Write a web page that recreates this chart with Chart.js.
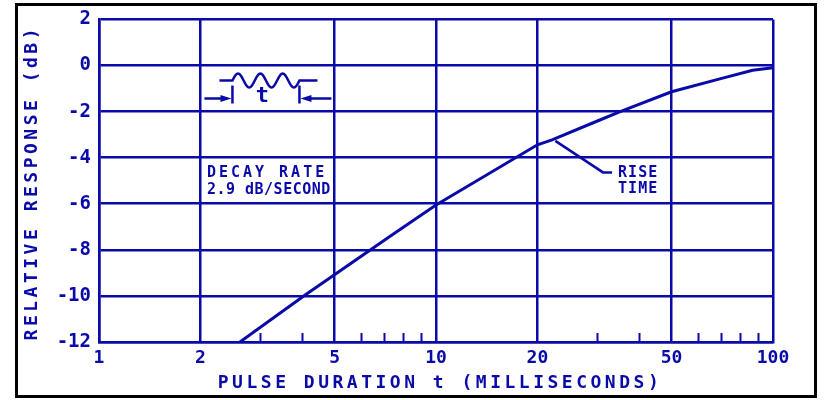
<!DOCTYPE html>
<html lang="en">
<head>
   <meta charset="UTF-8">
   <title>Relative Response vs Pulse Duration</title>
   <script src="https://cdn.jsdelivr.net/npm/chart.js"></script>
   <style>
      body { margin: 0; background: #fff; }
      #wrap { width: 824px; height: 400px; }
   </style>
</head>
<body>
   <div id="wrap"><canvas id="responseChart" width="824" height="400"></canvas></div>

   <script>
      // data
      const pulseMs = [2.62, 4.1, 7.4, 10, 20, 22.1, 30, 35.2, 50, 70, 87, 100];
      const responseDb = [-12, -9.95, -7.36, -6.05, -3.44, -3.23, -2.42, -2, -1.14, -0.57, -0.21, -0.1];

      const xMajorTicks = [1, 2, 5, 10, 20, 50, 100];
      const xMinorTicks = [3, 4, 6, 7, 8, 9, 30, 40, 60, 70, 80, 90];
      const yTicks = [-12, -10, -8, -6, -4, -2, 0, 2];

      const blue = '#0a0aa8';
      const font = '"DejaVu Sans Mono", monospace';

      // labels placed in data space
      const decayText = ['DECAY RATE', '2.9 dB/SECOND'];
      const riseText = ['RISE', 'TIME'];

      const drawExtras = {
         id: 'drawExtras',
         afterDraw(chart) {
            const ctx = chart.ctx;
            const xs = chart.scales.x;
            const ys = chart.scales.y;
            const a = chart.chartArea;
            ctx.save();
            ctx.strokeStyle = blue;
            ctx.fillStyle = blue;

            // minor ticks up from the bottom axis
            ctx.lineWidth = 2;
            xMinorTicks.forEach(v => {
               const px = Math.round(xs.getPixelForValue(v)) + 0.5;
               ctx.beginPath();
               ctx.moveTo(px, a.bottom);
               ctx.lineTo(px, a.bottom - 9);
               ctx.stroke();
            });

            // axis titles
            ctx.letterSpacing = '3.5px';
            ctx.font = 'bold 18px ' + font;
            ctx.textAlign = 'center';
            ctx.textBaseline = 'middle';
            ctx.fillText('PULSE DURATION t (MILLISECONDS)', (a.left + a.right) / 2 + 4, 383);
            ctx.save();
            ctx.translate(32, (a.top + a.bottom) / 2 + 2);
            ctx.rotate(-Math.PI / 2);
            ctx.fillText('RELATIVE RESPONSE (dB)', 0, 0);
            ctx.restore();

            // annotations
            ctx.font = 'bold 15px ' + font;
            ctx.textAlign = 'left';
            const dx = xs.getPixelForValue(2.09);
            ctx.letterSpacing = '3px';
            ctx.fillText(decayText[0], dx, ys.getPixelForValue(-4.68));
            ctx.letterSpacing = '0.5px';
            ctx.fillText(decayText[1], dx, ys.getPixelForValue(-5.41));
            ctx.letterSpacing = '1px';
            const rx = xs.getPixelForValue(34.7);
            ctx.fillText(riseText[0], rx, ys.getPixelForValue(-4.68));
            ctx.fillText(riseText[1], rx, ys.getPixelForValue(-5.37));

            // rise time leader
            ctx.lineWidth = 2.5;
            ctx.beginPath();
            ctx.moveTo(xs.getPixelForValue(22.6), ys.getPixelForValue(-3.27));
            ctx.lineTo(xs.getPixelForValue(31.3), ys.getPixelForValue(-4.64));
            ctx.lineTo(xs.getPixelForValue(33.3), ys.getPixelForValue(-4.64));
            ctx.stroke();

            // pulse sketch, anchored at (2, -1)
            const ox = xs.getPixelForValue(2);
            const oy = ys.getPixelForValue(-1);
            ctx.beginPath();
            ctx.moveTo(ox + 19, oy - 8);
            ctx.lineTo(ox + 32, oy - 8);
            for (let i = 0; i <= 60; i++) {
               const t = i / 60;
               ctx.lineTo(ox + 32 + 67 * t, oy - 8 - 7 * Math.sin(2 * Math.PI * 3 * t));
            }
            ctx.lineTo(ox + 117, oy - 8);
            ctx.moveTo(ox + 32, oy - 3);
            ctx.lineTo(ox + 32, oy + 15);
            ctx.moveTo(ox + 99, oy - 3);
            ctx.lineTo(ox + 99, oy + 15);
            ctx.moveTo(ox + 4, oy + 10);
            ctx.lineTo(ox + 22, oy + 10);
            ctx.moveTo(ox + 109, oy + 10);
            ctx.lineTo(ox + 131, oy + 10);
            ctx.stroke();
            // arrow heads
            ctx.beginPath();
            ctx.moveTo(ox + 31, oy + 10);
            ctx.lineTo(ox + 20, oy + 6.5);
            ctx.lineTo(ox + 20, oy + 13.5);
            ctx.closePath();
            ctx.moveTo(ox + 100, oy + 10);
            ctx.lineTo(ox + 111, oy + 6.5);
            ctx.lineTo(ox + 111, oy + 13.5);
            ctx.closePath();
            ctx.fill();
            ctx.letterSpacing = '0px';
            ctx.font = 'bold 22px ' + font;
            ctx.textAlign = 'center';
            ctx.fillText('t', ox + 62, oy + 8);

            // outer frame
            ctx.strokeStyle = '#000';
            ctx.lineWidth = 3;
            ctx.strokeRect(16.5, 4.5, 799, 392);
            ctx.restore();
         }
      };

      new Chart(document.getElementById('responseChart'), {
         type: 'line',
         data: {
            datasets: [{
               data: pulseMs.map((x, i) => ({ x: x, y: responseDb[i] })),
               borderColor: blue,
               borderWidth: 3,
               pointRadius: 0,
               tension: 0,
               fill: false
            }]
         },
         options: {
            responsive: false,
            animation: false,
            layout: { padding: { top: 15, right: 51, bottom: 0, left: 0 } },
            plugins: { legend: { display: false }, tooltip: { enabled: false } },
            scales: {
               x: {
                  type: 'logarithmic',
                  min: 1,
                  max: 100,
                  afterBuildTicks: s => { s.ticks = xMajorTicks.map(v => ({ value: v })); },
                  afterFit: s => { s.height = 58; },
                  grid: { color: blue, lineWidth: 2.5, drawTicks: false },
                  border: { color: blue, width: 2.5 },
                  ticks: {
                     color: blue,
                     padding: 6,
                     maxRotation: 0,
                     autoSkip: false,
                     font: { family: font, size: 18, weight: 'bold' },
                     callback: v => String(v)
                  }
               },
               y: {
                  min: -12,
                  max: 2,
                  afterBuildTicks: s => { s.ticks = yTicks.map(v => ({ value: v })); },
                  afterFit: s => { s.width = 99; },
                  grid: { color: blue, lineWidth: 2.5, drawTicks: false },
                  border: { color: blue, width: 2.5 },
                  ticks: {
                     color: blue,
                     padding: 8,
                     font: { family: font, size: 19, weight: 'bold' },
                     callback: v => String(v)
                  }
               }
            }
         },
         plugins: [drawExtras]
      });
   </script>
</body>
</html>
